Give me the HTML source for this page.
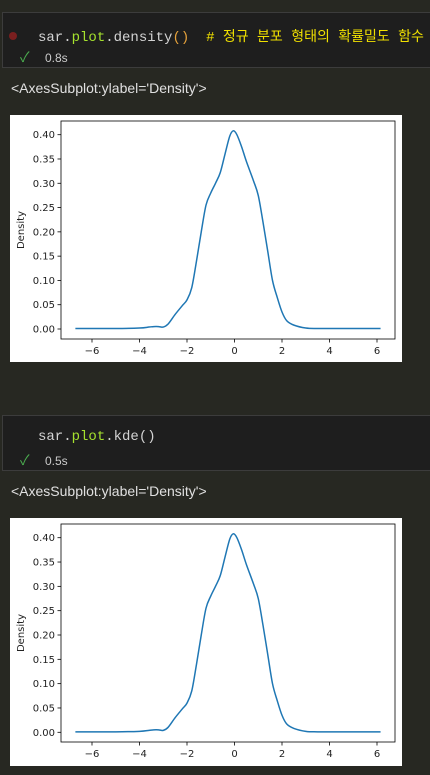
<!DOCTYPE html>
<html><head><meta charset="utf-8">
<style>
body{margin:0;width:430px;height:775px;background:#272822;position:relative;overflow:hidden;font-family:"Liberation Sans","Noto Sans CJK KR",sans-serif;}
.cell{position:absolute;left:2px;width:430px;height:56px;background:#1e1e1e;border:1px solid #3c3c3c;box-sizing:border-box;}
.code{position:absolute;left:35px;top:13px;font-family:"Liberation Mono","Noto Sans CJK KR",monospace;font-size:14px;color:#d4d4d4;white-space:pre;}
.time{position:absolute;left:42px;top:38px;font-size:12px;color:#cccccc;}
.check{position:absolute;left:17px;top:34px;color:#4caf50;font-size:14px;}
.out{position:absolute;left:11px;font-size:14px;color:#e0e0e0;}
.plot{position:absolute;left:10px;width:392px;background:#fff;}
</style></head><body>
<div class="cell" style="top:12px">
<div style="position:absolute;left:6px;top:19px;width:8px;height:8px;border-radius:50%;background:#7a1f1f"></div>
<div class="code">sar.<span style="color:#a6e22e">plot</span>.density<span style="color:#e6a23c">()</span>  <span style="color:#f0e000"># 정규 분포 형태의 확률밀도 함수</span></div>
<div class="check">✓</div>
<div class="time">0.8s</div>
</div>
<div class="out" style="top:80px">&lt;AxesSubplot:ylabel='Density'&gt;</div>
<div class="plot" style="top:115px;height:247px"><svg id="c1" width="392" height="247"></svg></div>

<div class="cell" style="top:415px">
<div class="code">sar.<span style="color:#a6e22e">plot</span>.kde()</div>
<div class="check">✓</div>
<div class="time">0.5s</div>
</div>
<div class="out" style="top:483px">&lt;AxesSubplot:ylabel='Density'&gt;</div>
<div class="plot" style="top:518px;height:248px"><svg id="c2" width="392" height="248"></svg></div>

<script>
const xs=[-6.7,-5,-4,-3.6,-3.4,-3.2,-3.0,-2.8,-2.5,-2.2,-2.0,-1.8,-1.6,-1.4,-1.2,-1.0,-0.8,-0.6,-0.4,-0.2,-0.05,0.1,0.3,0.5,0.8,1.0,1.2,1.4,1.6,1.8,2.0,2.2,2.5,3.0,3.5,4.5,6.15];
const ys=[0.001,0.001,0.002,0.004,0.005,0.005,0.004,0.01,0.03,0.048,0.06,0.085,0.14,0.2,0.255,0.28,0.3,0.322,0.36,0.397,0.408,0.40,0.375,0.345,0.305,0.275,0.22,0.16,0.10,0.065,0.035,0.017,0.008,0.002,0.001,0.001,0.001];
const xTicks=[-6,-4,-2,0,2,4,6];
const yTicks=[0,0.05,0.1,0.15,0.2,0.25,0.3,0.35,0.4];
const NS="http://www.w3.org/2000/svg";
function draw(id,top,bottom,y0,y40){
 const svg=document.getElementById(id);
 const L=51,R=385;
 const sx=v=>82+(v+6)*(285/12);
 const sy=v=>y0-v*(y0-y40)/0.4;
 const mk=(t,a)=>{const e=document.createElementNS(NS,t);for(const k in a)e.setAttribute(k,a[k]);svg.appendChild(e);return e;};
 let d="";
 const pts=xs.map((x,i)=>[sx(x),sy(ys[i])]);
 d="M"+pts[0][0]+","+pts[0][1];
 for(let i=0;i<pts.length-1;i++){const p0=pts[Math.max(0,i-1)],p1=pts[i],p2=pts[i+1],p3=pts[Math.min(pts.length-1,i+2)];
  d+=" C"+(p1[0]+(p2[0]-p0[0])/6)+","+(p1[1]+(p2[1]-p0[1])/6)+" "+(p2[0]-(p3[0]-p1[0])/6)+","+(p2[1]-(p3[1]-p1[1])/6)+" "+p2[0]+","+p2[1];}
 const line=mk("path",{d:d,fill:"none",stroke:"#1f77b4","stroke-width":1.5});
 
 
 const fr=mk("rect",{x:L,y:top,width:R-L,height:bottom-top,fill:"none",stroke:"#000","stroke-width":0.8});
 
 
 xTicks.forEach(v=>{const x=sx(v);mk("line",{x1:x,x2:x,y1:bottom,y2:bottom+3.5,stroke:"#000","stroke-width":0.8});
  const t=mk("text",{x:x,y:bottom+15,"font-size":10,"text-anchor":"middle",fill:"#222","font-family":"DejaVu Sans, sans-serif"});t.textContent=(v<0?"−"+(-v):v);
  
  });
 yTicks.forEach(v=>{const y=sy(v);mk("line",{x1:L-3.5,x2:L,y1:y,y2:y,stroke:"#000","stroke-width":0.8});
  const t=mk("text",{x:L-6,y:y+3.5,"font-size":10,"text-anchor":"end",fill:"#222","font-family":"DejaVu Sans, sans-serif"});t.textContent=v.toFixed(2);
  
  });
 const yl=mk("text",{x:0,y:0,"font-size":10,"text-anchor":"middle",fill:"#222","font-family":"DejaVu Sans, sans-serif",transform:"translate(14,"+((top+bottom)/2)+") rotate(-90)"});
 yl.textContent="Density";
 
 
}
draw("c1",6,224,214,19.7);
draw("c2",6,224,214.3,19.7);
</script>
</body></html>
